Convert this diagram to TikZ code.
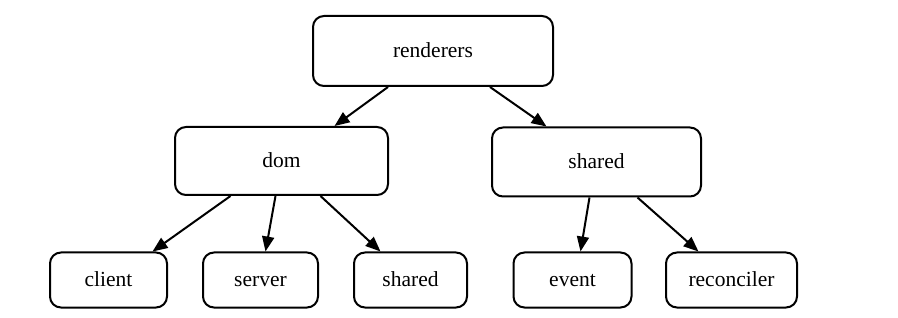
\documentclass[tikz,border=0pt]{standalone}
\usepackage{fontspec}
\setmainfont{Liberation Serif}
\usetikzlibrary{arrows.meta,calc}

\begin{document}
\begin{tikzpicture}[
  x=1pt, y=-1pt,
  dirblock/.style={draw, line width=2pt, rounded corners=11pt, fill=white, align=center, text height=15pt, text depth=1pt, font=\fontsize{21.5}{25}\selectfont},
  leafblock/.style={dirblock, minimum height=55pt},
  arrow/.style={-{Triangle[length=15pt,width=12pt]}, line width=2pt}
]
  \useasboundingbox (0,0) rectangle (898,318);

  % Top level
  \node[dirblock, minimum width=240pt, minimum height=70pt] (renderers) at (433,51) {renderers};

  % Second level
  \node[dirblock, minimum width=213pt, minimum height=68pt] (dom) at (281.5,161) {dom};
  \node[dirblock, minimum width=209pt, minimum height=69pt] (shared) at (596.5,162) {shared};

  % Leaves
  \node[leafblock, minimum width=117pt] (client) at (108.5,280) {client};
  \node[leafblock, minimum width=115pt] (server) at (260.5,280) {server};
  \node[leafblock, minimum width=113pt] (domshared) at (410.5,280) {shared};
  \node[leafblock, minimum width=118pt] (event) at (572.5,280) {event};
  \node[leafblock, minimum width=131pt] (reconciler) at (731.5,280) {reconciler};

  % Edges
  \draw[arrow] ($(renderers.south)+(-45,0)$) -- ($(dom.north)+(53,0)$);
  \draw[arrow] ($(renderers.south)+(57,0)$) -- ($(shared.north)+(-50,0)$);
  \draw[arrow] ($(dom.south)+(-51,0)$) -- ($(client.north)+(44,0)$);
  \draw[arrow] ($(dom.south)+(-6,0)$) -- ($(server.north)+(5,0)$);
  \draw[arrow] ($(dom.south)+(39,0)$) -- ($(domshared.north)+(-30,0)$);
  \draw[arrow] ($(shared.south)+(-7,0)$) -- ($(event.north)+(8,0)$);
  \draw[arrow] ($(shared.south)+(41,0)$) -- ($(reconciler.north)+(-33,0)$);
\end{tikzpicture}
\end{document}
